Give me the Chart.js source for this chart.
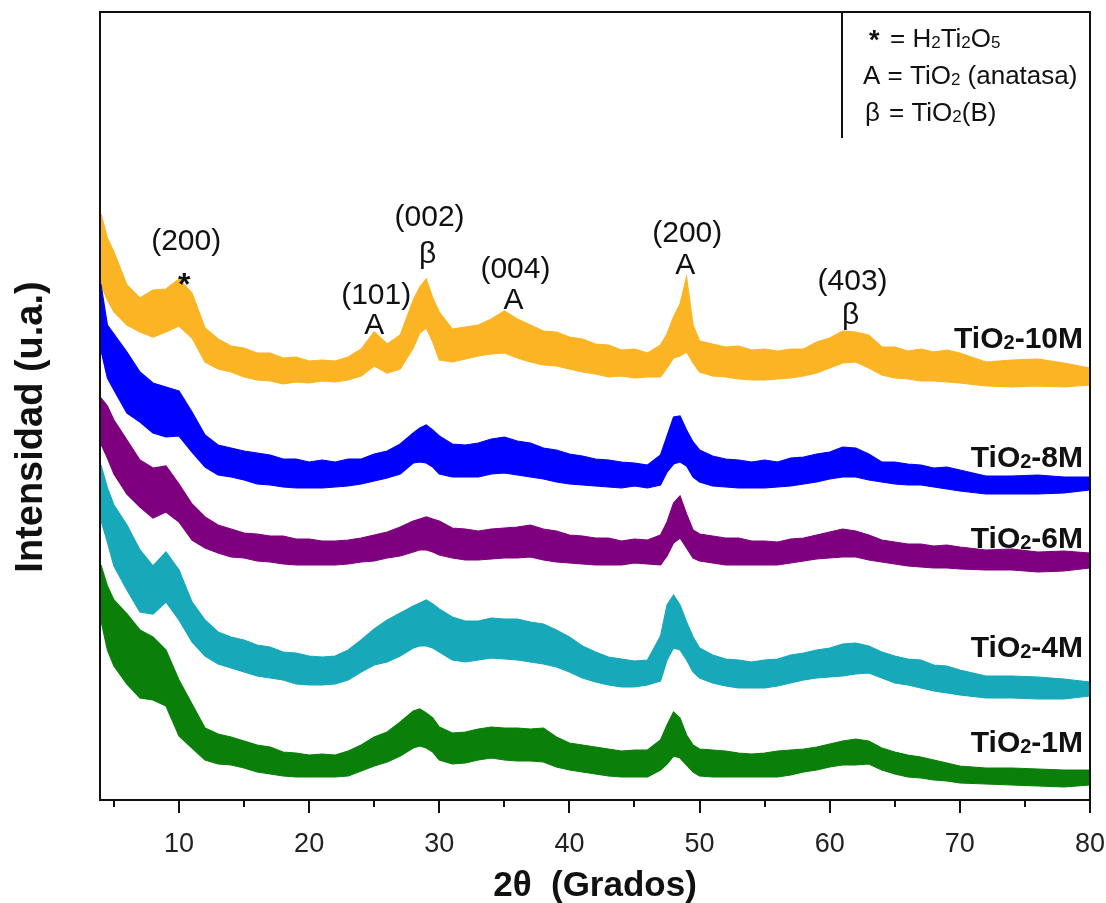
<!DOCTYPE html>
<html lang="es">
<head>
<meta charset="utf-8">
<title>DRX TiO2</title>
<script src="https://cdn.jsdelivr.net/npm/chart.js@4.4.1/dist/chart.umd.min.js"></script>
<style>
  html, body { margin: 0; padding: 0; background: #fff; }
  #wrap { position: relative; width: 1106px; height: 903px; }
</style>
</head>
<body>
<div id="wrap"><canvas id="xrdChart"></canvas></div>
<script>
// 2θ sampling grid (degrees), finer around the sharp reflections
const twoTheta = [4, 4.5, 5, 6, 7, 8, 9, 10, 11, 12, 13, 14, 15, 16, 17, 18, 19, 20, 21, 22, 23, 24, 25, 26, 27, 28, 28.5, 29, 29.5,
  30, 31, 32, 33, 34, 35, 36, 37, 38, 39, 40, 41, 42, 43, 44, 45, 46, 47, 47.5, 48, 48.5, 49, 49.5,
  50, 51, 52, 53, 54, 55, 56, 57, 58, 59, 60, 61, 62, 63, 64, 65, 66, 67, 68, 69, 70, 72, 74, 76, 78, 80];

// Each pattern is stored as the upper and lower edge of its noise band (offset intensity, u.a.)
const tio2_10M_max = [586, 562, 548, 515, 502, 510, 511, 521, 507, 472, 461, 454, 452, 447, 447, 442, 443, 439, 440, 439, 443, 451, 468, 456, 465, 500, 513, 521, 502,
  488, 471, 473, 475, 481, 489, 481, 475, 469, 468, 463, 461, 456, 455, 450, 451, 447, 455, 466, 483, 496, 523, 475,
  459, 456, 453, 454, 450, 451, 449, 451, 451, 458, 462, 469, 468, 465, 453, 453, 449, 451, 448, 450, 447, 438, 440, 441, 437, 432];
const tio2_10M_min = [515, 500, 488, 475, 468, 463, 468, 474, 462, 438, 431, 428, 423, 420, 419, 416, 418, 417, 419, 418, 420, 424, 434, 427, 431, 452, 467, 472, 458,
  440, 438, 441, 444, 446, 447, 442, 438, 435, 434, 431, 428, 426, 423, 424, 422, 423, 423, 432, 442, 444, 448, 437,
  428, 424, 423, 421, 420, 420, 421, 422, 424, 427, 432, 437, 438, 432, 425, 422, 421, 419, 419, 418, 417, 414, 413, 414, 413, 415];

const tio2_8M_max = [516, 475, 466, 448, 428, 417, 413, 409, 388, 365, 355, 352, 349, 347, 345, 341, 341, 338, 340, 338, 341, 341, 346, 349, 356, 367, 372, 375, 370,
  364, 356, 355, 357, 361, 363, 359, 357, 352, 350, 346, 344, 341, 340, 338, 337, 335, 345, 364, 383, 384, 370, 358,
  350, 344, 341, 340, 338, 340, 338, 342, 343, 346, 348, 353, 352, 346, 338, 338, 336, 335, 332, 333, 330, 324, 324, 325, 323, 323];
const tio2_8M_min = [450, 422, 410, 387, 378, 367, 363, 364, 348, 333, 325, 323, 320, 316, 315, 313, 312, 312, 312, 313, 314, 316, 319, 322, 326, 337, 338, 337, 333,
  326, 323, 323, 323, 326, 327, 325, 323, 321, 318, 316, 315, 314, 313, 312, 314, 312, 315, 328, 336, 338, 334, 323,
  318, 314, 313, 312, 312, 312, 313, 314, 316, 318, 321, 323, 323, 320, 318, 316, 315, 315, 313, 311, 309, 306, 306, 306, 307, 310];

const tio2_6M_max = [402, 394, 380, 360, 340, 332, 334, 316, 296, 283, 275, 271, 267, 266, 264, 264, 261, 261, 259, 259, 260, 262, 265, 268, 273, 279, 281, 283, 281,
  279, 272, 271, 269, 271, 272, 273, 275, 271, 269, 265, 264, 262, 262, 259, 261, 260, 265, 278, 297, 304, 286, 270,
  266, 264, 262, 262, 259, 259, 258, 261, 262, 265, 268, 271, 269, 265, 260, 258, 256, 256, 254, 255, 253, 250, 251, 248, 249, 247];
const tio2_6M_min = [356, 342, 326, 306, 293, 282, 288, 278, 260, 252, 247, 243, 242, 239, 238, 236, 235, 235, 235, 235, 236, 238, 239, 242, 244, 248, 250, 250, 248,
  245, 242, 240, 240, 241, 242, 242, 243, 240, 238, 237, 236, 235, 235, 235, 237, 236, 235, 244, 257, 262, 252, 242,
  239, 237, 235, 235, 235, 235, 235, 237, 239, 241, 242, 243, 243, 240, 238, 236, 234, 233, 232, 232, 231, 230, 230, 228, 229, 232];

const tio2_4M_max = [335, 312, 295, 275, 250, 234, 248, 230, 198, 180, 168, 163, 160, 155, 153, 148, 147, 144, 143, 144, 150, 160, 171, 180, 187, 194, 197, 200, 196,
  191, 183, 179, 179, 182, 181, 181, 178, 176, 170, 163, 154, 148, 143, 141, 139, 140, 164, 195, 205, 195, 178, 163,
  152, 145, 141, 140, 138, 140, 141, 145, 147, 150, 152, 156, 157, 154, 148, 144, 141, 140, 135, 134, 130, 124, 124, 123, 121, 118];
const tio2_4M_min = [280, 258, 234, 210, 188, 186, 198, 180, 158, 144, 136, 132, 128, 124, 122, 120, 116, 115, 115, 116, 120, 128, 135, 138, 144, 152, 154, 154, 152,
  148, 140, 138, 140, 142, 141, 140, 138, 136, 133, 128, 122, 118, 115, 113, 113, 115, 119, 140, 152, 150, 140, 128,
  122, 117, 114, 112, 112, 112, 114, 117, 120, 122, 123, 124, 126, 127, 122, 117, 115, 112, 109, 107, 105, 102, 102, 101, 101, 104];

const tio2_1M_max = [235, 214, 200, 186, 170, 163, 150, 120, 96, 72, 66, 63, 59, 55, 53, 48, 47, 45, 46, 45, 49, 55, 63, 68, 78, 89, 91, 87, 82,
  73, 67, 68, 71, 73, 72, 72, 71, 72, 63, 57, 55, 53, 51, 49, 50, 50, 60, 75, 88, 82, 65, 55,
  51, 50, 49, 47, 46, 47, 49, 50, 51, 53, 56, 59, 61, 59, 52, 48, 45, 43, 40, 37, 34, 32, 32, 31, 30, 30];
const tio2_1M_min = [180, 150, 134, 116, 102, 100, 94, 64, 52, 40, 36, 35, 32, 28, 26, 24, 23, 23, 23, 23, 24, 29, 34, 38, 44, 52, 54, 52, 48,
  40, 36, 37, 40, 42, 40, 39, 39, 38, 33, 30, 28, 26, 24, 23, 23, 23, 30, 36, 44, 42, 35, 28,
  24, 23, 23, 23, 23, 23, 23, 25, 28, 30, 33, 35, 35, 36, 30, 26, 23, 22, 20, 19, 17, 16, 15, 14, 13, 15];

const sampleNames = ['TiO₂-10M', 'TiO₂-8M', 'TiO₂-6M', 'TiO₂-4M', 'TiO₂-1M'];
const xTickValues = [10, 20, 30, 40, 50, 60, 70, 80];

const FONT = 'Arial, "Liberation Sans", Helvetica, sans-serif';

// band series: [name, upper, lower, colour]; drawn so that 1M ends up on top
const bands = [
  [sampleNames[4], tio2_1M_max, tio2_1M_min, '#0a800a'],
  [sampleNames[3], tio2_4M_max, tio2_4M_min, '#17a8b9'],
  [sampleNames[2], tio2_6M_max, tio2_6M_min, '#7f007f'],
  [sampleNames[1], tio2_8M_max, tio2_8M_min, '#0000ff'],
  [sampleNames[0], tio2_10M_max, tio2_10M_min, '#fbb424']
];

function toPoints(values) {
  return twoTheta.map((t, i) => ({ x: t, y: values[i] }));
}

const datasets = [];
bands.forEach(([name, upper, lower, color]) => {
  datasets.push({
    label: name,
    data: toPoints(upper),
    borderColor: color,
    backgroundColor: color,
    borderWidth: 1.2,
    pointRadius: 0,
    tension: 0,
    fill: '+1'
  });
  datasets.push({
    label: name + ' min',
    data: toPoints(lower),
    borderColor: color,
    borderWidth: 1.2,
    pointRadius: 0,
    tension: 0,
    fill: false
  });
});

/**
 * Draw text where unicode subscript digits are rendered as small lowered digits
 */
function drawRich(ctx, text, x, y, size, weight, align) {
  const parts = [];
  for (const ch of text) {
    const code = ch.charCodeAt(0);
    const sub = code >= 0x2080 && code <= 0x2089;
    const c = sub ? String.fromCharCode(code - 0x2080 + 48) : ch;
    if (parts.length && parts[parts.length - 1].sub === sub) parts[parts.length - 1].t += c;
    else parts.push({ t: c, sub: sub });
  }
  const fontFor = p => `${weight} ${p.sub ? Math.round(size * 0.66) : size}px ${FONT}`;
  let total = 0;
  parts.forEach(p => { ctx.font = fontFor(p); p.w = ctx.measureText(p.t).width; total += p.w; });
  let cx = align === 'right' ? x - total : align === 'center' ? x - total / 2 : x;
  ctx.textAlign = 'left';
  ctx.textBaseline = 'alphabetic';
  parts.forEach(p => {
    ctx.font = fontFor(p);
    ctx.fillText(p.t, cx, p.sub ? y + size * 0.04 : y);
    cx += p.w;
  });
}

// frame, tick marks, titles, phase key and reflection tags
const decorations = {
  id: 'decorations',
  afterDraw(chart) {
    const { ctx, chartArea: a, scales: { x, y } } = chart;
    ctx.save();
    ctx.fillStyle = '#111';
    ctx.strokeStyle = '#111';

    // plot frame
    ctx.lineWidth = 2;
    ctx.strokeRect(a.left, a.top, a.right - a.left, a.bottom - a.top);

    // bottom ticks: long at multiples of 10, short in between
    x.ticks.forEach(t => {
      const px = Math.round(x.getPixelForValue(t.value));
      const len = t.value % 10 === 0 ? 13 : 7;
      ctx.beginPath();
      ctx.moveTo(px, a.bottom);
      ctx.lineTo(px, a.bottom + len);
      ctx.stroke();
    });

    // axis titles
    ctx.textAlign = 'center';
    ctx.textBaseline = 'alphabetic';
    ctx.font = `bold 35px ${FONT}`;
    ctx.fillText('2θ  (Grados)', (a.left + a.right) / 2, 896);
    ctx.save();
    ctx.translate(42, 427);
    ctx.rotate(-Math.PI / 2);
    ctx.font = `bold 38px ${FONT}`;
    ctx.fillText('Intensidad (u.a.)', 0, 0);
    ctx.restore();

    // phase key, open at the bottom
    ctx.lineWidth = 2;
    ctx.beginPath();
    ctx.moveTo(842, a.top);
    ctx.lineTo(842, 138);
    ctx.stroke();

    ctx.font = `bold 27px ${FONT}`;
    ctx.textAlign = 'left';
    ctx.fillText('*', 869, 49);
    drawRich(ctx, '= H₂Ti₂O₅', 890, 47, 26, 'normal', 'left');
    drawRich(ctx, 'A = TiO₂ (anatasa)', 863, 84, 26, 'normal', 'left');
    drawRich(ctx, 'β', 865, 121, 26, 'normal', 'left');
    drawRich(ctx, '= TiO₂(B)', 889, 121, 26, 'normal', 'left');

    // reflection tags
    const tags = chart.options.plugins.decorations.tags;
    tags.forEach(tag => {
      const px = x.getPixelForValue(tag.theta);
      ctx.textAlign = 'center';
      ctx.font = `30px ${FONT}`;
      ctx.fillText(tag.hkl, px + 2, y.getPixelForValue(tag.hklAt));
      ctx.font = tag.phase === '*' ? `bold 32px ${FONT}` : `30px ${FONT}`;
      ctx.fillText(tag.phase, px, y.getPixelForValue(tag.phaseAt));
    });

    // sample names at the right end of each pattern
    const names = chart.options.plugins.decorations.names;
    names.forEach(n => {
      drawRich(ctx, n.text, 1083, y.getPixelForValue(n.at), 30, 'bold', 'right');
    });
    ctx.restore();
  }
};

const ctx = document.getElementById('xrdChart');
new Chart(ctx, {
  type: 'line',
  data: { datasets },
  plugins: [decorations],
  options: {
    responsive: true,
    maintainAspectRatio: false,
    animation: false,
    events: [],
    layout: { padding: { top: 12, right: 16, left: 0, bottom: 0 } },
    plugins: {
      legend: { display: false },
      tooltip: { enabled: false },
      decorations: {
        tags: [
          { theta: 10.4, hkl: '(200)', phase: '*', hklAt: 550, phaseAt: 505 },
          { theta: 25.0, hkl: '(101)', phase: 'A', hklAt: 496, phaseAt: 466 },
          { theta: 29.1, hkl: '(002)', phase: 'β', hklAt: 574, phaseAt: 537 },
          { theta: 35.7, hkl: '(004)', phase: 'A', hklAt: 522, phaseAt: 491 },
          { theta: 48.9, hkl: '(200)', phase: 'A', hklAt: 558, phaseAt: 526 },
          { theta: 61.6, hkl: '(403)', phase: 'β', hklAt: 510, phaseAt: 476 }
        ],
        names: [
          { text: sampleNames[0], at: 452 },
          { text: sampleNames[1], at: 333 },
          { text: sampleNames[2], at: 252 },
          { text: sampleNames[3], at: 143 },
          { text: sampleNames[4], at: 48 }
        ]
      }
    },
    scales: {
      x: {
        type: 'linear',
        min: 3.93,
        max: 80,
        grid: { display: false },
        border: { display: false },
        ticks: {
          stepSize: 5,
          includeBounds: false,
          autoSkip: false,
          maxRotation: 0,
          padding: 23,
          color: '#222',
          font: { family: FONT, size: 27, lineHeight: 1 },
          callback: v => (xTickValues.includes(v) ? String(v) : '')
        },
        afterFit: s => {
          s.height = 103;
          s.paddingLeft = 0;
          s.paddingRight = 0;
        }
      },
      y: {
        min: 0,
        max: 788,
        grid: { display: false },
        border: { display: false },
        ticks: { display: false },
        afterFit: s => { s.width = 100; }
      }
    }
  }
});
</script>
</body>
</html>
